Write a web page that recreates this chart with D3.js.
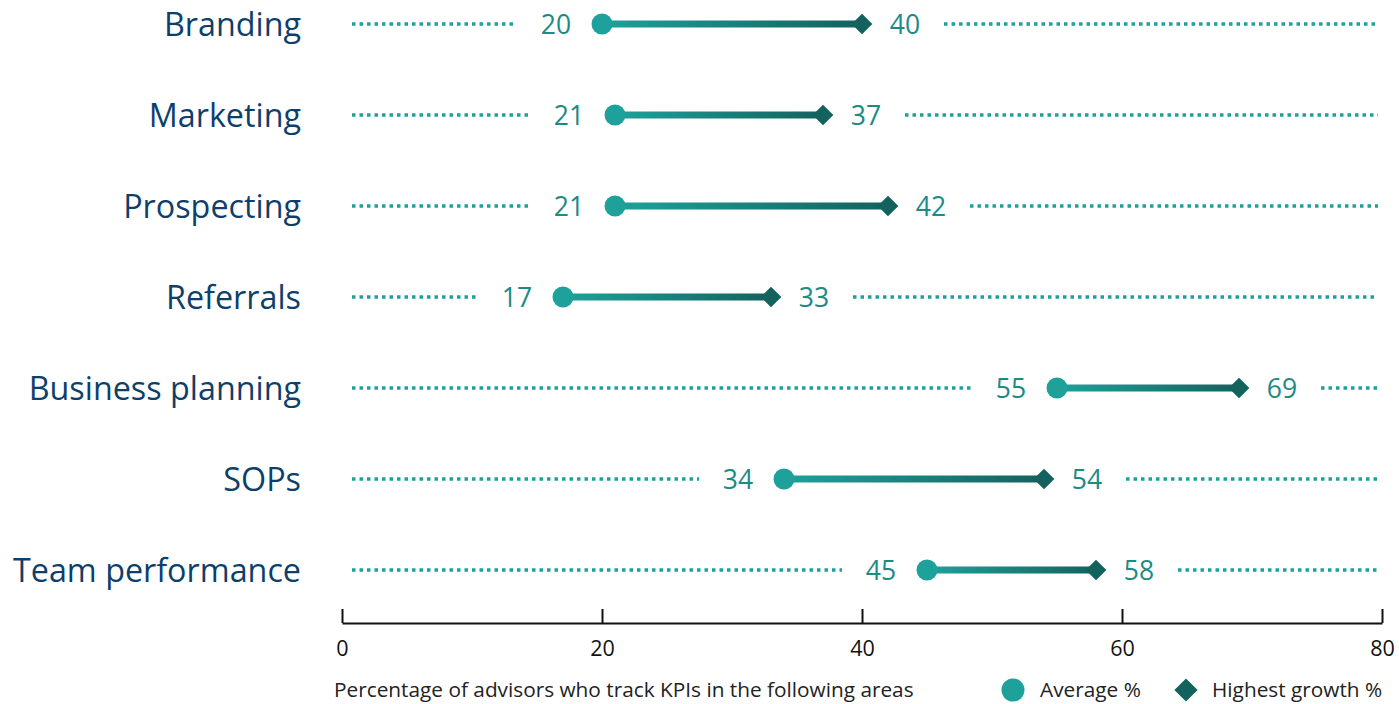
<!DOCTYPE html>
<html>
<head>
<meta charset="utf-8">
<script src="https://cdn.jsdelivr.net/npm/d3@7"></script>
<style>
  html, body { margin: 0; padding: 0; background: #fff; }
  svg { display: block; font-family: "Open Sans", Lato, sans-serif; }
</style>
</head>
<body>
<svg id="chart" width="1399" height="704"></svg>
<script>
// KPI tracking areas and the two measures per area
const categories = ["Branding", "Marketing", "Prospecting", "Referrals", "Business planning", "SOPs", "Team performance"];
const averagePct = [20, 21, 21, 17, 55, 34, 45];
const highestGrowthPct = [40, 37, 42, 33, 69, 54, 58];
const xTicks = [0, 20, 40, 60, 80];
const axisTitle = "Percentage of advisors who track KPIs in the following areas";
const legendLabels = ["Average %", "Highest growth %"];

const colAvg = "#1fa19b";
const colHigh = "#13625e";
const colCat = "#0e3f6a";
const colVal = "#1c8a85";

const svg = d3.select("#chart");

const x = d3.scaleLinear().domain([0, 80]).range([342, 1382]);
const y = d3.scalePoint().domain(categories).range([24, 570]);

// gradient for the connecting bar
const defs = svg.append("defs");
const grad = defs.append("linearGradient").attr("id", "barGrad")
  .attr("x1", "0%").attr("x2", "100%").attr("y1", "0%").attr("y2", "0%");
grad.append("stop").attr("offset", "0%").attr("stop-color", colAvg);
grad.append("stop").attr("offset", "100%").attr("stop-color", colHigh);

const rows = categories.map((c, i) => ({ cat: c, avg: averagePct[i], high: highestGrowthPct[i] }));

// category labels
svg.append("g").selectAll("text").data(rows).join("text")
  .attr("x", 301).attr("y", d => y(d.cat))
  .attr("dy", "0.36em").attr("text-anchor", "end")
  .attr("fill", colCat).attr("font-size", 32.3)
  .text(d => d.cat);

const rowG = svg.append("g").selectAll("g").data(rows).join("g");

const labelOffsetL = 46, labelOffsetR = 43, halfLabel = 15, gap = 24;

// dotted guide, left part
rowG.append("line")
  .attr("x1", x(0) + 10)
  .attr("x2", d => x(d.avg) - labelOffsetL - halfLabel - gap)
  .attr("y1", d => y(d.cat)).attr("y2", d => y(d.cat))
  .attr("stroke", colAvg).attr("stroke-width", 3.5).attr("stroke-dasharray", "3.5,4");

// dotted guide, right part
rowG.append("line")
  .attr("x1", d => x(d.high) + labelOffsetR + halfLabel + gap)
  .attr("x2", x(80) - 4)
  .attr("y1", d => y(d.cat)).attr("y2", d => y(d.cat))
  .attr("stroke", colAvg).attr("stroke-width", 3.5).attr("stroke-dasharray", "3.5,4");

// connecting bar
rowG.append("rect")
  .attr("x", d => x(d.avg)).attr("y", d => y(d.cat) - 3.5)
  .attr("width", d => x(d.high) - x(d.avg)).attr("height", 7)
  .attr("fill", "url(#barGrad)");

// average marker
rowG.append("circle")
  .attr("cx", d => x(d.avg)).attr("cy", d => y(d.cat)).attr("r", 10.5)
  .attr("fill", colAvg);

// highest growth marker
const diamond = d3.symbol().type(d3.symbolSquare).size(215);
rowG.append("path")
  .attr("d", diamond)
  .attr("transform", d => `translate(${x(d.high)},${y(d.cat)}) rotate(45)`)
  .attr("fill", colHigh);

// value labels
rowG.append("text")
  .attr("x", d => x(d.avg) - labelOffsetL).attr("y", d => y(d.cat))
  .attr("dy", "0.36em").attr("text-anchor", "middle")
  .attr("fill", colVal).attr("font-size", 26.5)
  .text(d => d.avg);
rowG.append("text")
  .attr("x", d => x(d.high) + labelOffsetR).attr("y", d => y(d.cat))
  .attr("dy", "0.36em").attr("text-anchor", "middle")
  .attr("fill", colVal).attr("font-size", 26.5)
  .text(d => d.high);

// x axis
const axis = svg.append("g").attr("transform", "translate(0,623)")
  .call(d3.axisBottom(x).tickValues(xTicks).tickSizeInner(-14).tickSizeOuter(0).tickPadding(0));
axis.select(".domain").attr("stroke", "#111").attr("stroke-width", 2);
axis.selectAll(".tick line").attr("stroke", "#111").attr("stroke-width", 2);
axis.selectAll(".tick text").attr("y", 33).attr("dy", 0).attr("font-size", 21.5)
  .attr("font-family", "'Open Sans', Lato, sans-serif").attr("fill", "#111");

// axis title
svg.append("text").attr("x", 334).attr("y", 697)
  .attr("font-size", 20.8).attr("fill", "#222").text(axisTitle);

// legend
const leg = svg.append("g");
leg.append("circle").attr("cx", 1013).attr("cy", 690).attr("r", 11.5).attr("fill", colAvg);
leg.append("text").attr("x", 1040).attr("y", 697).attr("font-size", 20.8).attr("fill", "#222").text(legendLabels[0]);
leg.append("path").attr("d", d3.symbol().type(d3.symbolSquare).size(270))
  .attr("transform", "translate(1186,690) rotate(45)").attr("fill", colHigh);
leg.append("text").attr("x", 1212).attr("y", 697).attr("font-size", 20.8).attr("fill", "#222").text(legendLabels[1]);
</script>
</body>
</html>
